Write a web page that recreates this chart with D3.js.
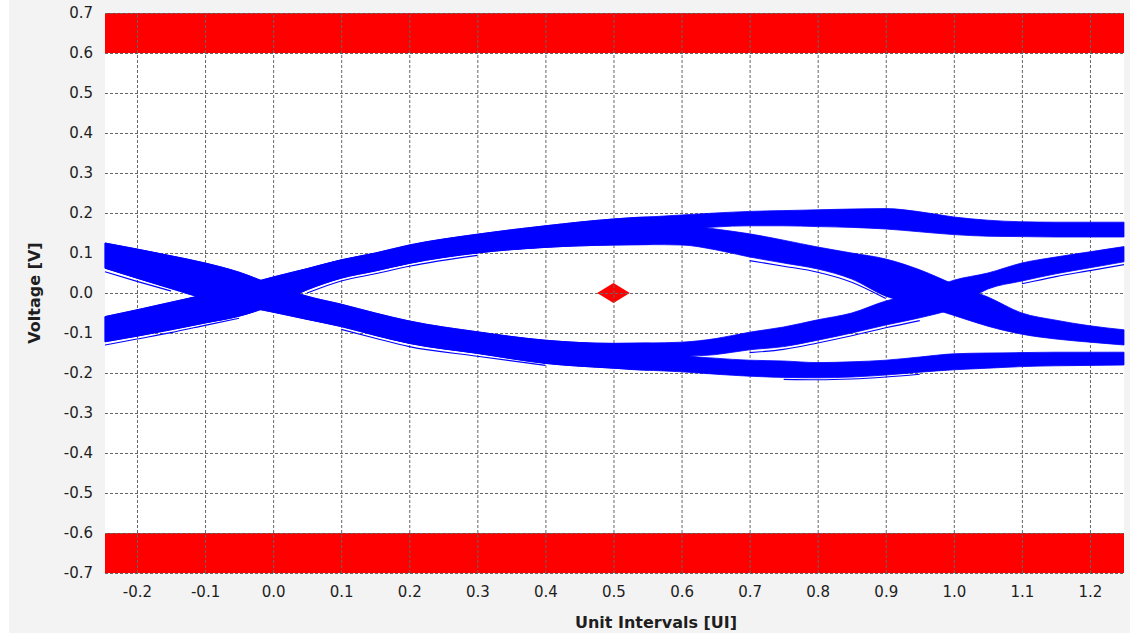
<!DOCTYPE html>
<html><head><meta charset="utf-8">
<script src="https://cdn.jsdelivr.net/npm/d3@7"></script>
<style>
html,body{margin:0;padding:0;background:#ffffff;}
svg{display:block;}
</style></head>
<body>
<svg id="chart" width="1130" height="635"></svg>
<script>
// ---------- data ----------
const xTickValues = [-0.2,-0.1,0.0,0.1,0.2,0.3,0.4,0.5,0.6,0.7,0.8,0.9,1.0,1.1,1.2];
const yTickValues = [-0.7,-0.6,-0.5,-0.4,-0.3,-0.2,-0.1,0.0,0.1,0.2,0.3,0.4,0.5,0.6,0.7];
const xTitle = "Unit Intervals [UI]";
const yTitle = "Voltage [V]";

// limit (mask) regions in volts
const limitTop = [0.6, 0.7];
const limitBottom = [-0.7, -0.6];

// eye mask diamond vertices
const maskUI = [0.476, 0.5, 0.524, 0.5];
const maskV  = [0.0, 0.025, 0.0, -0.025];

// band envelopes, first unit interval
const uiLeft = [-0.247,-0.2,-0.15,-0.1,-0.05,0,0.05,0.1,0.15,0.2,0.3,0.4,0.5,0.55];
const riseHi = [-0.059,-0.042,-0.023,-0.004,0.017,0.04,0.061,0.083,0.1,0.12,0.147,0.168,0.185,0.19];
const riseLo = [-0.122,-0.108,-0.092,-0.075,-0.058,-0.03,0.008,0.037,0.055,0.074,0.1,0.114,0.12,0.121];
const fallHi = [0.125,0.11,0.093,0.075,0.052,0.02,-0.008,-0.028,-0.05,-0.07,-0.097,-0.118,-0.126,-0.125];
const fallLo = [0.062,0.037,0.011,-0.014,-0.031,-0.048,-0.066,-0.084,-0.106,-0.126,-0.151,-0.176,-0.188,-0.193];

// band envelopes, second unit interval
const uiRight = [0.6,0.65,0.7,0.75,0.8,0.85,0.9,0.95,1.0,1.05,1.1,1.15,1.2,1.25];
const highHi  = [0.195,0.2,0.204,0.206,0.208,0.21,0.211,0.203,0.19,0.182,0.178,0.177,0.177,0.177];
const highLo  = [0.158,0.165,0.168,0.168,0.166,0.164,0.16,0.153,0.146,0.142,0.141,0.14,0.14,0.14];
const dropHi  = [0.172,0.16,0.148,0.132,0.115,0.1,0.085,0.058,0.022,-0.01,-0.05,-0.068,-0.082,-0.092];
const dropLo  = [0.12,0.108,0.09,0.075,0.06,0.035,-0.008,-0.03,-0.056,-0.083,-0.103,-0.115,-0.123,-0.13];
const lowHi   = [-0.155,-0.163,-0.168,-0.17,-0.174,-0.172,-0.168,-0.16,-0.152,-0.15,-0.149,-0.148,-0.148,-0.148];
const lowLo   = [-0.197,-0.203,-0.208,-0.211,-0.212,-0.21,-0.205,-0.198,-0.192,-0.188,-0.184,-0.182,-0.181,-0.18];
const climbHi = [-0.123,-0.114,-0.098,-0.085,-0.067,-0.05,-0.02,0.0,0.032,0.05,0.075,0.09,0.103,0.116];
const climbLo = [-0.16,-0.154,-0.142,-0.134,-0.118,-0.1,-0.08,-0.062,-0.038,0.01,0.03,0.048,0.063,0.078];

// stray single traces just outside the main bands
const strayA_ui = [-0.247,-0.2,-0.15,-0.1,-0.05];
const strayA_v  = [-0.13,-0.115,-0.099,-0.081,-0.063];
const strayB_ui = [0.05,0.1,0.15,0.2,0.3];
const strayB_v  = [0.0,0.03,0.048,0.067,0.094];
const strayC_ui = [-0.247,-0.2,-0.15];
const strayC_v  = [0.053,0.029,0.005];
const strayD_ui = [0.1,0.15,0.2,0.3,0.4];
const strayD_v  = [-0.091,-0.113,-0.134,-0.158,-0.181];
const strayE_ui = [0.7,0.75,0.8,0.85,0.9];
const strayE_v  = [0.081,0.067,0.052,0.027,-0.014];
const strayF_ui = [0.7,0.75,0.8,0.85,0.9,0.95];
const strayF_v  = [-0.149,-0.141,-0.125,-0.107,-0.087,-0.069];
const strayG_ui = [1.1,1.15,1.2,1.25];
const strayG_v  = [0.023,0.041,0.056,0.071];
const strayH_ui = [0.75,0.8,0.85,0.9,0.95];
const strayH_v  = [-0.216,-0.217,-0.215,-0.21,-0.203];

// ---------- layout ----------
const svg = d3.select("#chart");
const L = 105, R = 1124, T = 13, B = 573;
const x = d3.scaleLinear().domain([-0.247, 1.25]).range([L, R]);
const y = d3.scaleLinear().domain([-0.7, 0.7]).range([B, T]);
const FONT = "'DejaVu Sans', Verdana, sans-serif";
const BLUE = "#0000ff";

svg.append("rect").attr("x", 9).attr("y", 0).attr("width", 1121).attr("height", 633).attr("fill", "#f3f3f3");
svg.append("rect").attr("x", L).attr("y", T).attr("width", R - L).attr("height", B - T).attr("fill", "#ffffff");

const plot = svg.append("g");

// limit regions
[limitTop, limitBottom].forEach(r => {
  plot.append("rect")
    .attr("x", x(x.domain()[0])).attr("width", x(x.domain()[1]) - x(x.domain()[0]))
    .attr("y", y(r[1])).attr("height", y(r[0]) - y(r[1]))
    .attr("fill", "#ff0000");
});

// mask diamond
plot.append("path")
  .attr("d", d3.line().x((d,i) => x(maskUI[i])).y((d,i) => y(maskV[i]))(maskUI) + "Z")
  .attr("fill", "#ff0000");

// grid
const gridStyle = g => {
  g.select(".domain").remove();
  g.selectAll(".tick text").remove();
  g.selectAll(".tick line").attr("stroke", "#666666").attr("stroke-width", 1).attr("stroke-dasharray", "3,2");
};
plot.append("g").attr("transform", `translate(0,${B})`)
  .call(d3.axisBottom(x).tickValues(xTickValues).tickSize(-(B - T))).call(gridStyle);
plot.append("g").attr("transform", `translate(${L},0)`)
  .call(d3.axisLeft(y).tickValues(yTickValues).tickSize(-(R - L))).call(gridStyle);

// eye bands
const curve = d3.curveMonotoneX;
function band(uis, his, los) {
  const pts = uis.map((u, i) => ({u, hi: his[i], lo: los[i]}));
  plot.append("path")
    .attr("d", d3.area().curve(curve).x(d => x(d.u)).y0(d => y(d.lo)).y1(d => y(d.hi))(pts))
    .attr("fill", BLUE).attr("stroke", BLUE).attr("stroke-width", 0.8);
}
const uiAll = uiLeft.concat(uiRight);
band(uiAll, riseHi.concat(highHi), riseLo.concat(highLo));
band(uiAll, riseHi.concat(dropHi), riseLo.concat(dropLo));
band(uiAll, fallHi.concat(lowHi), fallLo.concat(lowLo));
band(uiAll, fallHi.concat(climbHi), fallLo.concat(climbLo));

function stray(uis, vs) {
  plot.append("path")
    .attr("d", d3.line().curve(curve).x((d,i) => x(uis[i])).y((d,i) => y(vs[i]))(uis))
    .attr("fill", "none").attr("stroke", BLUE).attr("stroke-width", 1.1);
}
stray(strayA_ui, strayA_v);
stray(strayB_ui, strayB_v);
stray(strayC_ui, strayC_v);
stray(strayD_ui, strayD_v);
stray(strayE_ui, strayE_v);
stray(strayF_ui, strayF_v);
stray(strayG_ui, strayG_v);
stray(strayH_ui, strayH_v);

// axes labels
const fmt = d => d.toFixed(1);
const xAxis = svg.append("g").attr("transform", `translate(0,${B})`)
  .call(d3.axisBottom(x).tickValues(xTickValues).tickSize(0).tickPadding(13).tickFormat(fmt));
const yAxis = svg.append("g").attr("transform", `translate(${L},0)`)
  .call(d3.axisLeft(y).tickValues(yTickValues).tickSize(0).tickPadding(12).tickFormat(fmt));
[xAxis, yAxis].forEach(g => {
  g.select(".domain").remove();
  g.selectAll("text").attr("font-family", FONT).attr("font-size", 15).attr("fill", "#1e1e1e");
});

svg.append("text").attr("x", 656).attr("y", 628)
  .attr("text-anchor", "middle").attr("font-family", FONT).attr("font-size", 16).attr("font-weight", "bold")
  .attr("fill", "#1e1e1e").text(xTitle);
svg.append("text").attr("transform", "translate(40,293) rotate(-90)")
  .attr("text-anchor", "middle").attr("font-family", FONT).attr("font-size", 16).attr("font-weight", "bold")
  .attr("fill", "#1e1e1e").text(yTitle);
</script>
</body></html>
